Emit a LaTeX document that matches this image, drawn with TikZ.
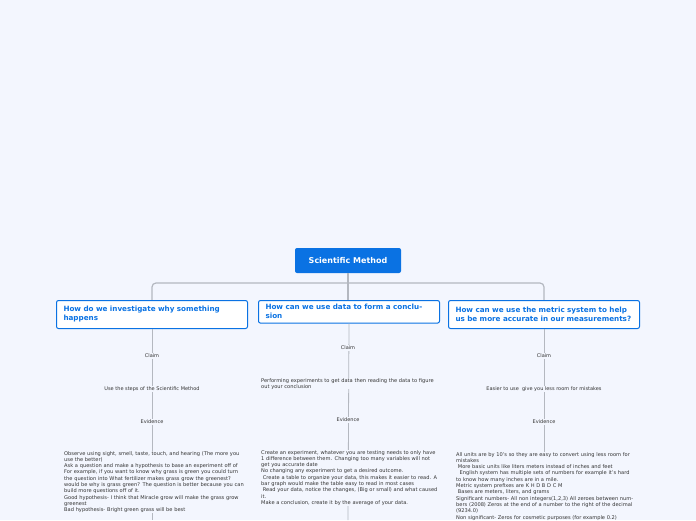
\documentclass[tikz,border=0pt]{standalone}
\usepackage{fontspec}
\setmainfont{DejaVu Sans}
\definecolor{bg}{HTML}{F3F6FE}
\definecolor{blu}{HTML}{0A72E3}
\definecolor{ln}{HTML}{B4B8C0}
\definecolor{tx}{HTML}{333333}
\begin{document}
\begin{tikzpicture}[x=1pt,y=-1pt,
  conn/.style={draw=ln,line width=1.2pt},
  branch/.style={draw=blu,fill=white,line width=1pt,rounded corners=2pt,text=blu,font=\fontsize{7.2}{9}\selectfont\bfseries,align=left,anchor=north west,inner xsep=7pt,inner ysep=4pt},
  small/.style={text=tx,font=\fontsize{5}{6}\selectfont,fill=bg,inner sep=1pt},
  body/.style={text=tx,font=\fontsize{5.1}{6.3}\selectfont,align=left,anchor=north west,inner sep=0pt,fill=bg}]
\useasboundingbox (0,0) rectangle (696,520);
\clip (0,0) rectangle (696,520);
\fill[bg] (0,0) rectangle (696,520);
\node[fill=blu,text=white,rounded corners=2pt,font=\fontsize{8}{10}\selectfont\bfseries,minimum width=106pt,minimum height=25pt] (root) at (348,260.5) {Scientific Method};
\coordinate (j) at (348,283);
\draw[conn,rounded corners=4pt] (152,300) -- (152,283) -- (544,283) -- (544,300);
\draw[conn] (root.south) -- (348,300);
\node[branch,text width=177pt,minimum height=28pt] (b1) at (56,300) {How do we investigate why something\\happens};
\node[branch,text width=167pt,minimum height=20pt] (b2) at (258,300) {How can we use data to form a conclusion};
\node[branch,text width=177pt,minimum height=28pt] (b3) at (448,300) {How can we use the metric system to help\\us be more accurate in our measurements?};
% left
\draw[conn,line width=0.8pt] (b1.south) -- (152,520);
\node[small] (c1) at (152,356) {Claim};
\node[small] (s1) at (152,389) {Use the steps of the Scientific Method};
\node[small] (e1) at (152,422) {Evidence};
\node[body,text width=180pt] (t1) at (64,451) {Observe using sight, smell, taste, touch, and hearing (The more you use the better)\\Ask a question and make a hypothesis to base an experiment off of\\For example, if you want to know why grass is green you could turn the question into What fertilizer makes grass grow the greenest? would be why is grass green? The question is better because you can build more questions off of it.\\Good hypothesis- I think that Miracle grow will make the grass grow greenest\\Bad hypothesis- Bright green grass will be best};
% middle
\draw[conn,line width=0.8pt] (b2.south) -- (348,520);
\node[small] (c2) at (348,348) {Claim};
\node[body,text width=180pt] (s2) at (261,378) {Performing experiments to get data then reading the data to figure out your conclusion};
\node[small] (e2) at (348,420) {Evidence};
\node[body,text width=178pt] (t2) at (261,450) {Create an experiment, whatever you are testing needs to only have 1 difference between them. Changing too many variables will not get you accurate date\\No changing any experiment to get a desired outcome.\\\ Create a table to organize your data, this makes it easier to read. A bar graph would make the table easy to read in most cases\\\ Read your data, notice the changes, (Big or small) and what caused it.\\Make a conclusion, create it by the average of your data.};
% right
\draw[conn,line width=0.8pt] (b3.south) -- (544,520);
\node[small] (c3) at (544,356) {Claim};
\node[small] (s3) at (544,389) {Easier to use\ \ give you less room for mistakes};
\node[small] (e3) at (544,422) {Evidence};
\node[body,text width=180pt] (t3) at (456,452) {All units are by 10's so they are easy to convert using less room for mistakes\\\ More basic units like liters meters instead of inches and feet\\\ \ English system has multiple sets of numbers for example it's hard to know how many inches are in a mile.\\Metric system prefixes are K H D B D C M\\\ Bases are meters, liters, and grams\\Significant numbers- All non integers(1,2,3) All zeroes between numbers (2008) Zeros at the end of a number to the right of the decimal (9234.0)\\Non significant- Zeros for cosmetic purposes (for example 0.2)};
\end{tikzpicture}
\end{document}
